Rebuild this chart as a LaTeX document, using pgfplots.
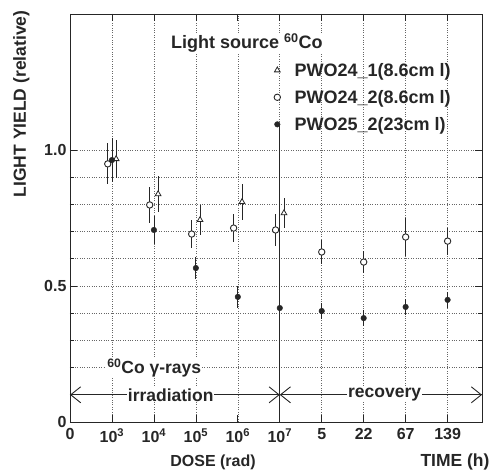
\documentclass[border=0pt]{standalone}
\usepackage{pgfplots}
\pgfplotsset{compat=1.18}
\usepackage{pgfplotstable}
\usepackage{fontspec}
\setmainfont{Liberation Sans}
\usetikzlibrary{arrows.meta}

% PWO24_1 (8.6 cm l): open triangles
\pgfplotstableread{
x y ey
1.1 0.967 0.070
2.1 0.838 0.065
3.1 0.743 0.055
4.1 0.809 0.065
5.1 0.768 0.055
}\pwoA
% PWO24_2 (8.6 cm l): open circles
\pgfplotstableread{
x y ey
0.9 0.949 0.075
1.9 0.798 0.065
2.9 0.691 0.050
3.9 0.713 0.050
4.9 0.706 0.060
6 0.625 0.045
7 0.588 0.040
8 0.680 0.070
9 0.665 0.050
}\pwoB
% PWO25_2 (23 cm l): filled circles
\pgfplotstableread{
x y ey
1 0.963 0.080
2 0.706 0.050
3 0.566 0.040
4 0.460 0.040
5 0.419 0.030
6 0.408 0.030
7 0.382 0.030
8 0.423 0.030
9 0.449 0.030
}\pwoC

\definecolor{ink}{gray}{0.15}
\newcommand{\lab}{\fontsize{17.5}{20}\selectfont\bfseries}
\newcommand{\leg}{\fontsize{18}{21}\selectfont\bfseries}
\newcommand{\tck}{\fontsize{16}{19}\selectfont\bfseries}

\begin{document}
\begin{tikzpicture}[every node/.style={text=ink}]
\useasboundingbox (-70pt,-48pt) rectangle (422pt,422pt);
\begin{axis}[
  name=ax,
  scale only axis, width=412pt, height=408pt,
  xmin=0, xmax=9.82, ymin=0, ymax=1.5,
  xtick={0,...,9},
  xticklabels={0,10\textsuperscript{3},10\textsuperscript{4},10\textsuperscript{5},10\textsuperscript{6},10\textsuperscript{7},5,22,67,139},
  ytick={0,0.5,1}, yticklabels={0,0.5,1.0},
  minor y tick num=4,
  grid=both,
  major grid style={dash pattern=on 0.8pt off 1.6pt, black!60, line width=0.6pt},
  minor grid style={dash pattern=on 0.8pt off 1.6pt, black!60, line width=0.6pt},
  tick align=inside, major tick length=7pt, minor tick length=4pt,
  tick style={ink, line width=0.7pt},
  axis line style={ink, line width=0.9pt},
  /pgf/number format/assume math mode=true,
  tick label style={font=\tck, text=ink},
  xticklabel style={yshift=-3pt},
  error bars/y dir=both, error bars/y explicit,
  error bars/error mark=none,
  error bars/error bar style={ink, line width=0.8pt},
  legend style={draw=none, fill=none, at={(axis cs:4.86,1.328)}, anchor=north west,
    font=\leg, row sep=8.5pt, inner sep=0pt, nodes={inner sep=2pt, text=ink}},
  legend cell align=left,
  legend image code/.code={\draw[#1, mark repeat=2, mark phase=2] plot coordinates {(0pt,0pt) (6pt,0pt) (12pt,0pt)};},
  /tikz/every odd column/.append style={column sep=12pt},
]
\addplot[only marks, mark=triangle*, mark size=3.3pt, mark options={fill=white, draw=ink, line width=0.8pt}]
  table[x=x, y=y, y error=ey] {\pwoA};
\addlegendentry{PWO24\_1(8.6cm l)}
\addplot[only marks, mark=*, mark size=3.2pt, mark options={fill=white, draw=ink, line width=0.9pt}]
  table[x=x, y=y, y error=ey] {\pwoB};
\addlegendentry{PWO24\_2(8.6cm l)}
\addplot[only marks, mark=*, mark size=2.8pt, mark options={fill=ink, draw=ink}]
  table[x=x, y=y, y error=ey] {\pwoC};
\addlegendentry{PWO25\_2(23cm l)}

% separation line at 10^7
\draw[ink, line width=0.9pt] (axis cs:5,0) -- (axis cs:5,1.094);
% arrows
\draw[ink, line width=0.9pt, {Straight Barb[length=10pt,width=16pt]}-{Straight Barb[length=10pt,width=16pt]}]
  (axis cs:0,0.1) -- (axis cs:5,0.1);
\draw[ink, line width=0.9pt, {Straight Barb[length=10pt,width=16pt]}-{Straight Barb[length=10pt,width=16pt]}]
  (axis cs:5,0.1) -- (axis cs:9.82,0.1);
\node[font=\lab, fill=white, inner sep=1pt] at (axis cs:2.40,0.1) {irradiation};
\node[font=\lab, fill=white, inner sep=1pt] at (axis cs:7.50,0.1) {recovery};
\node[font=\lab, fill=white, inner sep=1pt, anchor=west] at (axis cs:0.86,0.198) {\textsuperscript{60}Co γ-rays};
\node[font=\leg, fill=white, inner sep=1pt, anchor=west] at (axis cs:2.38,1.392) {Light source\hspace{5pt}\textsuperscript{60}Co};
\end{axis}
\node[rotate=90, anchor=south, font=\lab] at (-37pt,318pt) {LIGHT YIELD (relative)};
\node[font=\fontsize{16}{19}\selectfont\bfseries] at (143pt,-40pt) {DOSE (rad)};
\node[font=\lab] at (385pt,-40pt) {TIME (h)};
\end{tikzpicture}
\end{document}
